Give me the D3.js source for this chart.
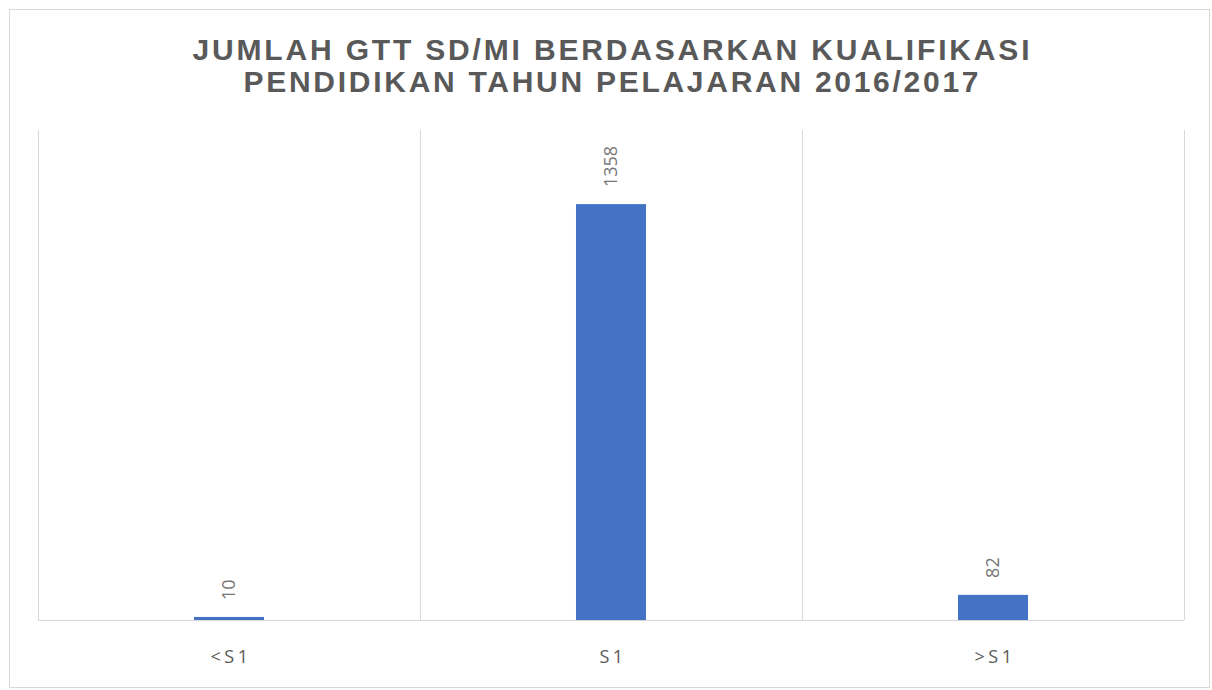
<!DOCTYPE html>
<html lang="en">
<head>
  <meta charset="UTF-8">
  <title>Jumlah GTT SD/MI</title>
  <script src="https://d3js.org/d3.v7.min.js"></script>
  <style>
    body { margin: 0; background: #fff; }
    svg { display: block; }
  </style>
</head>
<body>
  <svg width="1212" height="690"></svg>

  <script>
    const categories = ["<S1", "S1", ">S1"];
    const values = [10, 1358, 82];
    const titleLines = ["JUMLAH GTT SD/MI BERDASARKAN KUALIFIKASI", "PENDIDIKAN TAHUN PELAJARAN 2016/2017"];
    const yMax = 1600;

    const svg = d3.select("svg");
    const margin = {top: 130, right: 28, bottom: 70, left: 38};
    const width = 1212, height = 690;
    const chartWidth = width - margin.left - margin.right,
          chartHeight = height - margin.top - margin.bottom;

    // outer frame
    svg.append("rect")
      .attr("x", 9.5).attr("y", 9.5)
      .attr("width", width - 12).attr("height", height - 12)
      .attr("fill", "none")
      .attr("stroke", "#d9d9d9");

    // title
    svg.selectAll(".title")
      .data(titleLines)
      .enter().append("text")
      .attr("class", "title")
      .attr("x", 611)
      .attr("y", (d, i) => 60 + i * 32)
      .attr("text-anchor", "middle")
      .attr("textLength", (d, i) => i === 0 ? 837 : 735)
      .attr("lengthAdjust", "spacing")
      .style("font-family", "'Liberation Sans', Arial, sans-serif")
      .style("font-weight", "bold")
      .style("font-size", "30px")
      .style("fill", "#595959")
      .text(d => d);

    const chart = svg.append("g")
      .attr("transform", `translate(${margin.left},${margin.top})`);

    const xScale = d3.scaleBand()
      .domain(categories)
      .range([0, chartWidth])
      .paddingInner(0.8167)
      .paddingOuter(0.4083);

    const yScale = d3.scaleLinear().domain([0, yMax]).range([chartHeight, 0]);

    // vertical separators between categories
    const seps = d3.range(categories.length + 1).map(i => i * chartWidth / categories.length);
    chart.selectAll(".sep")
      .data(seps)
      .enter().append("line")
      .attr("x1", d => Math.round(d) + 0.5)
      .attr("x2", d => Math.round(d) + 0.5)
      .attr("y1", 0)
      .attr("y2", chartHeight)
      .attr("stroke", "#d9d9d9");

    // bars
    chart.selectAll(".bar")
      .data(values)
      .enter().append("rect")
      .attr("class", "bar")
      .attr("x", (d, i) => xScale(categories[i]))
      .attr("y", d => yScale(d))
      .attr("width", xScale.bandwidth())
      .attr("height", d => chartHeight - yScale(d))
      .attr("fill", "#4472c4");

    // baseline
    chart.append("line")
      .attr("x1", 0).attr("x2", chartWidth)
      .attr("y1", chartHeight + 0.5).attr("y2", chartHeight + 0.5)
      .attr("stroke", "#d9d9d9");

    // value labels, rotated
    chart.selectAll(".vlabel")
      .data(values)
      .enter().append("text")
      .attr("class", "vlabel")
      .attr("transform", (d, i) => {
        const cx = xScale(categories[i]) + xScale.bandwidth() / 2;
        return `translate(${cx},${yScale(d) - 17}) rotate(-90)`;
      })
      .attr("dy", "0.36em")
      .attr("text-anchor", "start")
      .style("font-family", "'Open Sans', sans-serif")
      .style("font-size", "18px")
      .style("fill", "#767676")
      .text(d => d);

    // category labels
    chart.selectAll(".clabel")
      .data(categories)
      .enter().append("text")
      .attr("class", "clabel")
      .attr("x", d => xScale(d) + xScale.bandwidth() / 2 + 2)
      .attr("y", chartHeight + 43)
      .attr("text-anchor", "middle")
      .style("font-family", "'Open Sans', sans-serif")
      .style("font-size", "18px")
      .style("letter-spacing", "3.5px")
      .style("fill", "#595959")
      .text(d => d);
  </script>
</body>
</html>
